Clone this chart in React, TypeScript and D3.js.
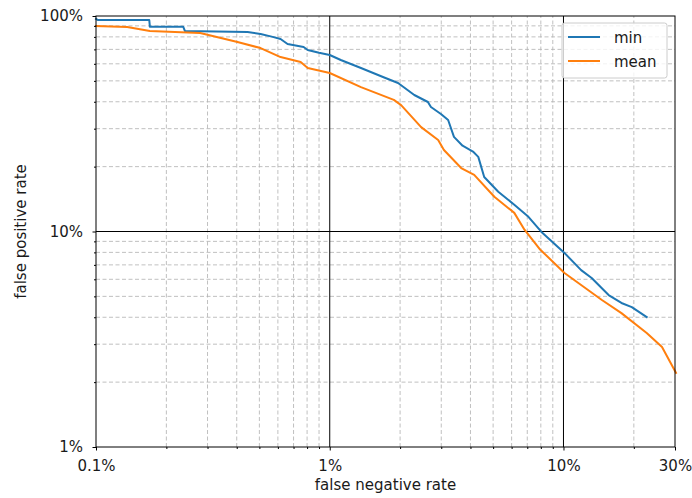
import React, { useEffect, useRef } from "react";
import * as d3 from "d3";

// false negative rate (%) / false positive rate (%)
const minFnr = [0.1, 0.102, 0.169, 0.17, 0.236, 0.24, 0.445, 0.506, 0.57, 0.616, 0.66, 0.773, 0.805, 0.9, 1.0, 1.115, 1.36, 1.7, 1.96, 2.3, 2.63, 2.71, 3.0, 3.21, 3.4, 3.7, 4.1, 4.32, 4.58, 5.26, 6.16, 7.08, 8.05, 10.1, 11.9, 13.2, 15.6, 17.7, 19.6, 22.7];
const minFpr = [97, 95.8, 95.8, 89.2, 89.2, 85.2, 84.3, 82.5, 80, 78.2, 74.1, 71.8, 69.5, 67.5, 65.9, 62.5, 57.4, 52, 48.9, 43, 39.9, 37.8, 35, 32.9, 27.5, 25, 23.5, 22.2, 17.9, 15.3, 13.3, 11.7, 9.95, 7.95, 6.62, 6.08, 5.07, 4.66, 4.46, 4.01];

const meanFnr = [0.1, 0.136, 0.17, 0.279, 0.403, 0.506, 0.616, 0.751, 0.805, 1.0, 1.36, 1.88, 2.02, 2.46, 2.91, 3.08, 3.65, 4.15, 5.06, 6.16, 6.81, 7.9, 10.1, 14.6, 17.7, 22.7, 26.4, 30.3];
const meanFpr = [89.9, 88.9, 85.2, 83.4, 75.7, 71.0, 64.5, 61.2, 57.4, 54.4, 46.8, 40.8, 38.6, 30.5, 26.6, 23.9, 19.7, 18.3, 14.5, 12.2, 10.2, 8.3, 6.42, 4.81, 4.18, 3.38, 2.91, 2.21];

const xTicks = [0.1, 1, 10, 30];
const yTicks = [1, 10, 100];
const seriesNames = ["min", "mean"];
const seriesColors = ["#1f77b4", "#ff7f0e"];

const W = 692;
const H = 498;
const m = { left: 96, right: 17, top: 16, bottom: 51 };

const App = () => {
  const ref = useRef<SVGSVGElement>(null);

  useEffect(() => {
    const svg = d3.select(ref.current);
    svg.selectAll("*").remove();
    const font = "DejaVu Sans, sans-serif";
    const fs = 15;

    const x = d3.scaleLog().domain([0.1, 30]).range([m.left, W - m.right]);
    const y = d3.scaleLog().domain([1, 100]).range([H - m.bottom, m.top]);

    const minorX: number[] = [];
    [0.1, 1, 10].forEach(d => {
      for (let k = 2; k <= 9; k++) if (d * k < 30) minorX.push(d * k);
    });
    const minorY: number[] = [];
    [1, 10].forEach(d => {
      for (let k = 2; k <= 9; k++) minorY.push(d * k);
    });

    // minor grid
    const g = svg.append("g");
    g.selectAll("line.mx")
      .data(minorX)
      .enter()
      .append("line")
      .attr("x1", d => x(d))
      .attr("x2", d => x(d))
      .attr("y1", y(1))
      .attr("y2", y(100))
      .attr("stroke", "#b0b0b0")
      .attr("stroke-width", 0.8)
      .attr("stroke-dasharray", "4,2.5");
    g.selectAll("line.my")
      .data(minorY)
      .enter()
      .append("line")
      .attr("x1", x(0.1))
      .attr("x2", x(30))
      .attr("y1", d => y(d))
      .attr("y2", d => y(d))
      .attr("stroke", "#b0b0b0")
      .attr("stroke-width", 0.8)
      .attr("stroke-dasharray", "4,2.5");

    // major grid
    g.selectAll("line.Mx")
      .data([1, 10])
      .enter()
      .append("line")
      .attr("x1", d => x(d))
      .attr("x2", d => x(d))
      .attr("y1", y(1))
      .attr("y2", y(100))
      .attr("stroke", "#000")
      .attr("stroke-width", 1);
    g.selectAll("line.My")
      .data([10])
      .enter()
      .append("line")
      .attr("x1", x(0.1))
      .attr("x2", x(30))
      .attr("y1", d => y(d))
      .attr("y2", d => y(d))
      .attr("stroke", "#000")
      .attr("stroke-width", 1);

    // lines
    const line = d3
      .line<[number, number]>()
      .x(d => x(d[0]))
      .y(d => y(d[1]));
    const series = [
      d3.zip(minFnr, minFpr) as [number, number][],
      d3.zip(meanFnr, meanFpr) as [number, number][]
    ];
    series.forEach((s, i) => {
      svg
        .append("path")
        .datum(s)
        .attr("d", line)
        .attr("fill", "none")
        .attr("stroke", seriesColors[i])
        .attr("stroke-width", 2)
        .attr("stroke-linejoin", "round")
        .attr("stroke-linecap", "square");
    });

    // frame
    svg
      .append("rect")
      .attr("x", m.left)
      .attr("y", m.top)
      .attr("width", W - m.left - m.right)
      .attr("height", H - m.top - m.bottom)
      .attr("fill", "none")
      .attr("stroke", "#000")
      .attr("stroke-width", 1);

    // axes
    const fmt = (d: d3.NumberValue) => `${d}%`;
    const xAxis = svg
      .append("g")
      .attr("transform", `translate(0,${H - m.bottom})`)
      .call(d3.axisBottom(x).tickValues(xTicks).tickFormat(fmt).tickSize(3.5).tickPadding(10));
    const yAxis = svg
      .append("g")
      .attr("transform", `translate(${m.left},0)`)
      .call(d3.axisLeft(y).tickValues(yTicks).tickFormat(fmt).tickSize(3.5).tickPadding(9.5));
    [xAxis, yAxis].forEach(a => {
      a.select(".domain").remove();
      a.selectAll("text").attr("font-family", font).attr("font-size", fs).attr("fill", "#1a1a1a");
      a.selectAll("line").attr("stroke", "#000");
    });
    svg
      .append("g")
      .attr("transform", `translate(0,${H - m.bottom})`)
      .call(d3.axisBottom(x).tickValues(minorX).tickFormat(() => "").tickSize(2))
      .call(a => a.select(".domain").remove());
    svg
      .append("g")
      .attr("transform", `translate(${m.left},0)`)
      .call(d3.axisLeft(y).tickValues(minorY).tickFormat(() => "").tickSize(2))
      .call(a => a.select(".domain").remove());

    // axis titles
    svg
      .append("text")
      .attr("x", (m.left + W - m.right) / 2)
      .attr("y", 490)
      .attr("text-anchor", "middle")
      .attr("font-family", font)
      .attr("font-size", fs)
      .attr("fill", "#1a1a1a")
      .text("false negative rate");
    svg
      .append("text")
      .attr("transform", `translate(26,${(m.top + H - m.bottom) / 2}) rotate(-90)`)
      .attr("text-anchor", "middle")
      .attr("font-family", font)
      .attr("font-size", fs)
      .attr("fill", "#1a1a1a")
      .text("false positive rate");

    // legend
    const lg = svg.append("g").attr("transform", "translate(562,23)");
    lg.append("rect")
      .attr("width", 105)
      .attr("height", 55)
      .attr("rx", 2.5)
      .attr("fill", "rgba(255,255,255,0.8)")
      .attr("stroke", "#cccccc");
    seriesNames.forEach((n, i) => {
      lg.append("line")
        .attr("x1", 6)
        .attr("x2", 38)
        .attr("y1", 14 + i * 24)
        .attr("y2", 14 + i * 24)
        .attr("stroke", seriesColors[i])
        .attr("stroke-width", 2);
      lg.append("text")
        .attr("x", 52)
        .attr("y", 19.5 + i * 24)
        .attr("font-family", font)
        .attr("font-size", fs)
        .attr("fill", "#1a1a1a")
        .text(n);
    });
  }, []);

  return (
    <svg
      ref={ref}
      width={W}
      height={H}
      style={{ position: "absolute", left: 0, top: 0, background: "#fff" }}
    />
  );
};

export default App;
